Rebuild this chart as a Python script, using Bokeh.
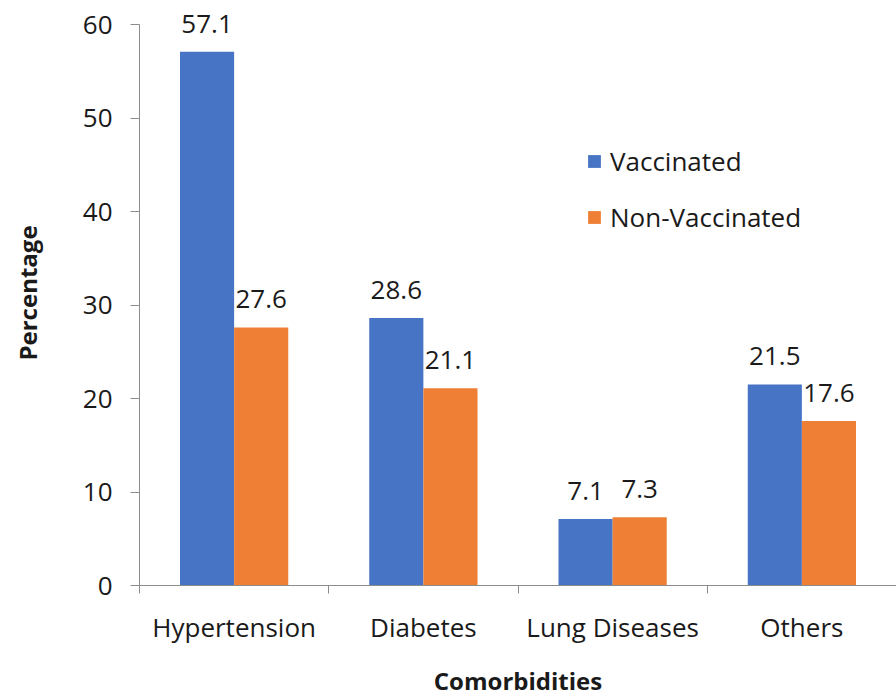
import numpy as np
from bokeh.plotting import figure
from bokeh.models import (Range1d, FixedTicker, ColumnDataSource, LabelSet, Legend, LegendItem)
from bokeh.core.properties import value
from bokeh.embed import file_html
from bokeh.resources import INLINE

categories = ["Hypertension", "Diabetes", "Lung Diseases", "Others"]
vaccinated = [57.1, 28.6, 7.1, 21.5]
non_vaccinated = [27.6, 21.1, 7.3, 17.6]
y_ticks = [0, 10, 20, 30, 40, 50, 60]

FONT = "Open Sans"
BLUE = "#4874C6"
ORANGE = "#EE7F34"
TXT = "#1a1a1a"

idx = np.arange(len(categories))
bw = 0.286
src_v = ColumnDataSource(dict(x=idx + 0.5 - bw / 2, top=vaccinated,
                              lab=[f"{v:.1f}" for v in vaccinated]))
src_n = ColumnDataSource(dict(x=idx + 0.5 + bw / 2, top=non_vaccinated,
                              lab=[f"{v:.1f}" for v in non_vaccinated]))

p = figure(width=896, height=699, output_backend="svg", toolbar_location=None,
           x_range=Range1d(0, len(categories)), y_range=Range1d(0, 62.57),
           min_border_left=139, min_border_right=0, min_border_top=0,
           min_border_bottom=114)
p.outline_line_color = None
p.grid.visible = False
p.background_fill_color = "white"
p.border_fill_color = "white"

rv = p.vbar(x="x", top="top", width=bw, source=src_v, fill_color=BLUE, line_color=None)
rn = p.vbar(x="x", top="top", width=bw, source=src_n, fill_color=ORANGE, line_color=None)

for src in (src_v, src_n):
    p.add_layout(LabelSet(x="x", y="top", text="lab", source=src, text_align="center",
                          text_baseline="bottom", y_offset=19, text_font=value(FONT),
                          text_font_size="26px", text_color=TXT))

# y axis
ya = p.yaxis[0]
ya.ticker = FixedTicker(ticks=y_ticks, minor_ticks=[])
ya.bounds = (0, 60)
ya.axis_line_color = "#8c8c8c"
ya.major_tick_line_color = "#8c8c8c"
ya.major_tick_out = 9
ya.major_tick_in = 0
ya.major_label_text_font = FONT
ya.major_label_text_font_size = "26px"
ya.major_label_text_color = TXT
ya.major_label_standoff = 18
ya.axis_label = "Percentage"
ya.axis_label_text_font = FONT
ya.axis_label_text_font_style = "bold"
ya.axis_label_text_font_size = "24px"
ya.axis_label_text_color = TXT
ya.axis_label_standoff = 36

# x axis: labels at centers, tick marks at category boundaries
xa = p.xaxis[0]
xa.ticker = FixedTicker(ticks=list(idx + 0.5), minor_ticks=list(range(len(categories) + 1)))
xa.major_label_overrides = {float(i + 0.5): c for i, c in enumerate(categories)}
xa.major_tick_line_color = None
xa.minor_tick_line_color = "#8c8c8c"
xa.minor_tick_out = 8
xa.minor_tick_in = 0
xa.axis_line_color = "#8c8c8c"
xa.major_label_text_font = FONT
xa.major_label_text_font_size = "26px"
xa.major_label_text_color = TXT
xa.major_label_standoff = 15
xa.axis_label = "Comorbidities"
xa.axis_label_text_font = FONT
xa.axis_label_text_font_style = "bold"
xa.axis_label_text_font_size = "24px"
xa.axis_label_text_color = TXT
xa.axis_label_standoff = 16

legend = Legend(items=[LegendItem(label="Vaccinated", renderers=[rv]),
                       LegendItem(label="Non-Vaccinated", renderers=[rn])],
                location=(447, 350), orientation="vertical",
                border_line_color=None, background_fill_alpha=0,
                glyph_width=16, glyph_height=16, label_standoff=8,
                label_text_font=FONT, label_text_font_size="26px",
                label_text_color=TXT, spacing=20, padding=0, margin=0)
p.add_layout(legend)

open("out.html", "w").write(file_html(p, INLINE))
